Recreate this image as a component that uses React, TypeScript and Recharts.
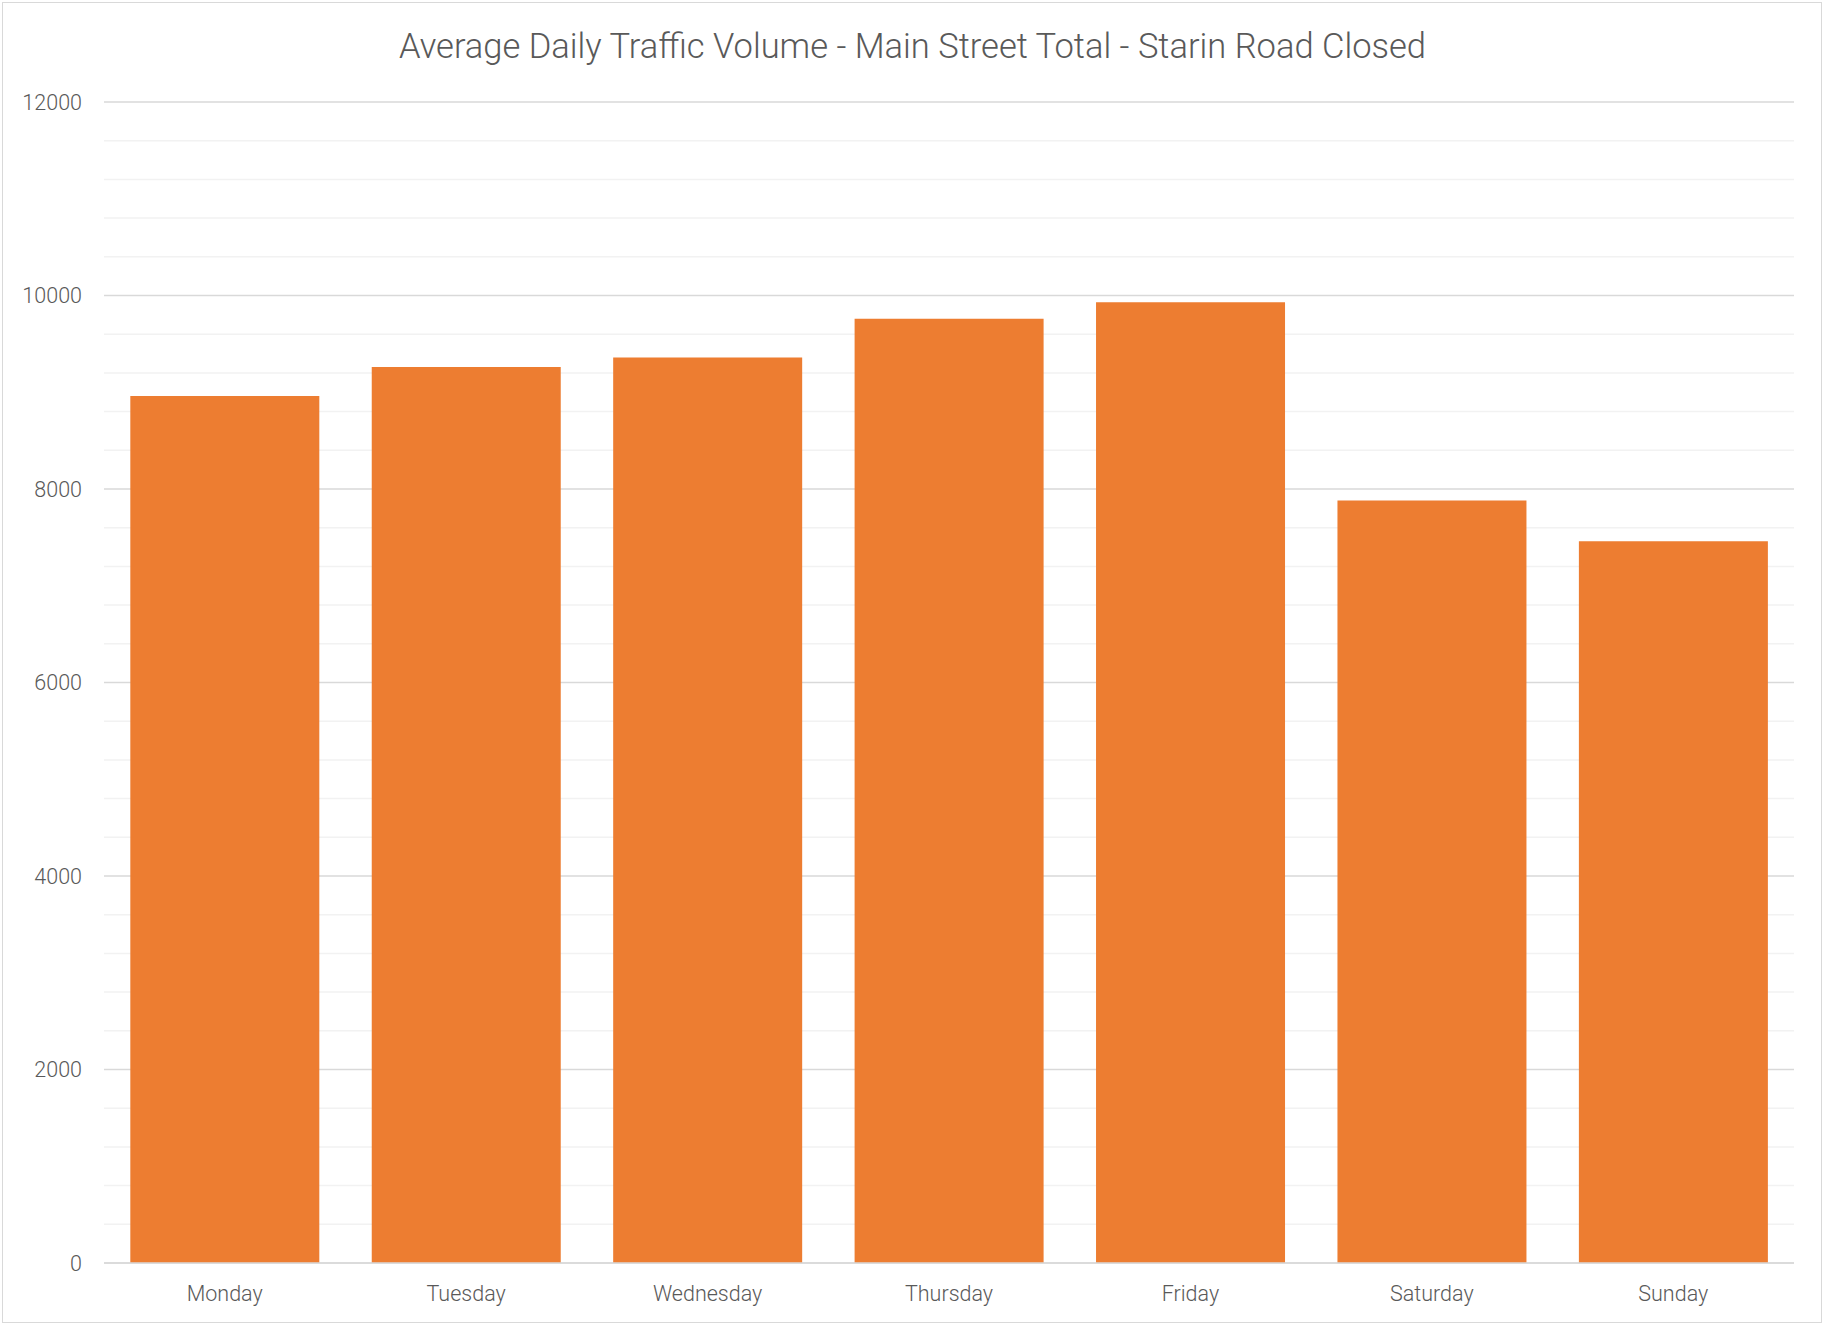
import { BarChart, Bar, XAxis, YAxis, CartesianGrid } from "recharts";

const days = ["Monday", "Tuesday", "Wednesday", "Thursday", "Friday", "Saturday", "Sunday"];
const volumes = [8960, 9260, 9360, 9760, 9930, 7880, 7460];
const majorTicks = [0, 2000, 4000, 6000, 8000, 10000, 12000];
const minorTicks = [400, 800, 1200, 1600, 2400, 2800, 3200, 3600, 4400, 4800, 5200, 5600, 6400, 6800, 7200, 7600, 8400, 8800, 9200, 9600, 10400, 10800, 11200, 11600];

const data = days.map((day, i) => ({ day, volume: volumes[i] }));

const W = 1825;
const H = 1324;
const textColor = "#595959";
const font = "Roboto, 'Open Sans', sans-serif";

export default function App() {
    return (
        <div style={{ position: "absolute", left: 0, top: 0, width: W, height: H, background: "#fff" }}>
            <div
                style={{
                    position: "absolute",
                    left: 2,
                    top: 2,
                    width: 1818,
                    height: 1319,
                    border: "1px solid #d9d9d9",
                }}
            />
            <div
                style={{
                    position: "absolute",
                    left: 0,
                    top: 26,
                    width: W,
                    textAlign: "center",
                    fontFamily: font,
                    fontWeight: 300,
                    fontSize: 34.5,
                    color: textColor,
                }}
            >
                Average Daily Traffic Volume - Main Street Total - Starin Road Closed
            </div>
            <div style={{ position: "absolute", left: 0, top: 0 }}>
                <BarChart
                    width={W}
                    height={H}
                    data={data}
                    margin={{ top: 102, right: 31, bottom: 11, left: 0 }}
                    barCategoryGap="10.9%"
                >
                    <CartesianGrid
                        vertical={false}
                        stroke="#f2f2f2"
                        strokeWidth={1.5}
                        horizontalValues={minorTicks}
                    />
                    <CartesianGrid vertical={false} stroke="#d9d9d9" strokeWidth={1.5} />
                    <XAxis
                        dataKey="day"
                        height={50}
                        axisLine={{ stroke: "#d9d9d9", strokeWidth: 1.5 }}
                        tickLine={false}
                        tickMargin={17}
                        tick={{ fill: textColor, fontSize: 21.5, fontFamily: font, fontWeight: 300 }}
                    />
                    <YAxis
                        width={104}
                        domain={[0, 12000]}
                        ticks={majorTicks}
                        axisLine={false}
                        tickLine={false}
                        tickMargin={16}
                        tick={{ fill: textColor, fontSize: 21.5, fontFamily: font, fontWeight: 300 }}
                    />
                    <Bar dataKey="volume" fill="#ED7D31" isAnimationActive={false} />
                </BarChart>
            </div>
        </div>
    );
}
